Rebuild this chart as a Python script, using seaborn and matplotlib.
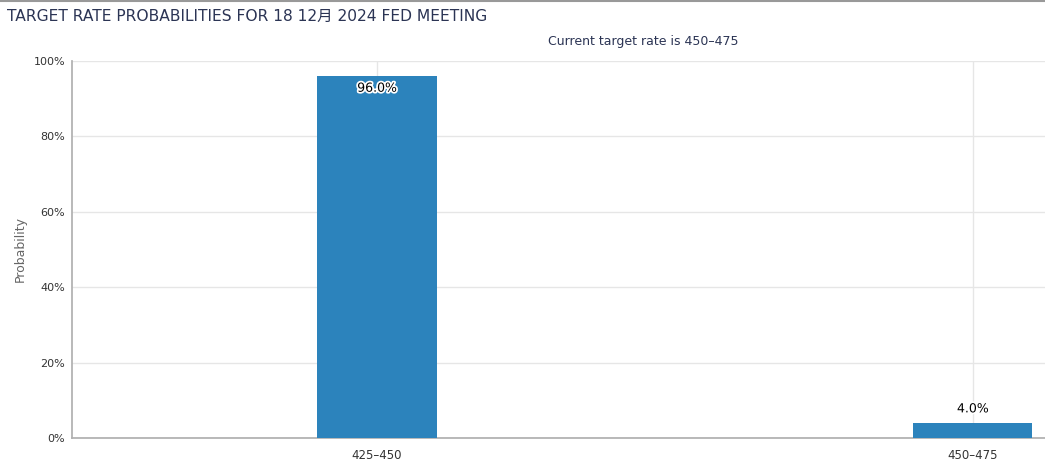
import matplotlib
matplotlib.use("Agg")
import matplotlib.pyplot as plt
import matplotlib.patheffects as pe
from matplotlib.ticker import FuncFormatter
import seaborn as sns
import pandas as pd

# data
rate_ranges = ["425-450", "450-475"]
tick_labels = ["425–450", "450–475"]
probabilities = [96.0, 4.0]

title = "TARGET RATE PROBABILITIES FOR 18 12月 2024 FED MEETING"
subtitle = "Current target rate is 450–475"

sns.set_theme(style="white")
plt.rcParams["font.family"] = ["DejaVu Sans", "Noto Sans CJK SC"]

df = pd.DataFrame({"range": rate_ranges, "prob": probabilities})

fig = plt.figure(figsize=(10.45, 4.67), dpi=100)
ax = fig.add_axes([72 / 1045, 29 / 467, 973 / 1045, 377 / 467])

# vertical grid at category centres
for xc in range(len(rate_ranges)):
    ax.axvline(xc, color="#e6e6e6", lw=1, zorder=0)

sns.barplot(data=df, x="range", y="prob", color="#2c83bc", saturation=1,
            width=0.2, linewidth=0, ax=ax, zorder=3)

ax.set_xlim(-0.512, 1.121)
ax.set_ylim(0, 100)
ax.set_yticks([0, 20, 40, 60, 80, 100])
ax.yaxis.set_major_formatter(FuncFormatter(lambda v, p: f"{v:.0f}%"))
ax.yaxis.grid(True, color="#e6e6e6", lw=1)
ax.set_axisbelow(True)
ax.set_xticks(range(len(rate_ranges)))
ax.set_xticklabels(tick_labels)

ax.tick_params(axis="x", length=5, width=1, color="#c0c0c0", labelsize=8.5,
               labelcolor="#333333", pad=3)
ax.tick_params(axis="y", length=3, width=1, color="#c0c0c0", labelsize=8,
               labelcolor="#333333", pad=2)

for side in ["top", "right"]:
    ax.spines[side].set_visible(False)
ax.spines["left"].set_color("#b0b0b0")
ax.spines["bottom"].set_color("#b0b0b0")

ax.set_xlabel("")
ax.set_ylabel("Probability", fontsize=9, color="#666666", labelpad=5)

# data labels
stroke = [pe.withStroke(linewidth=2.5, foreground="white")]
for i, v in enumerate(probabilities):
    if v > 50:
        ax.text(i, v - 1.5, f"{v:.1f}%", ha="center", va="top", fontsize=9,
                color="black", path_effects=stroke, zorder=5)
    else:
        ax.text(i, v + 2.0, f"{v:.1f}%", ha="center", va="bottom", fontsize=9,
                color="black", path_effects=stroke, zorder=5)

fig.text(7 / 1045, 1 - 16 / 467, title, ha="left", va="center",
         fontsize=11.2, color="#2b3454")
fig.text(643 / 1045, 1 - 41 / 467, subtitle, ha="center", va="center",
         fontsize=9, color="#2b3454")

# thin border line at the very top
fig.add_artist(plt.Line2D([0, 1], [0.998, 0.998], color="#999999", lw=1.5,
                          transform=fig.transFigure))

fig.savefig("out.png", dpi=100)
